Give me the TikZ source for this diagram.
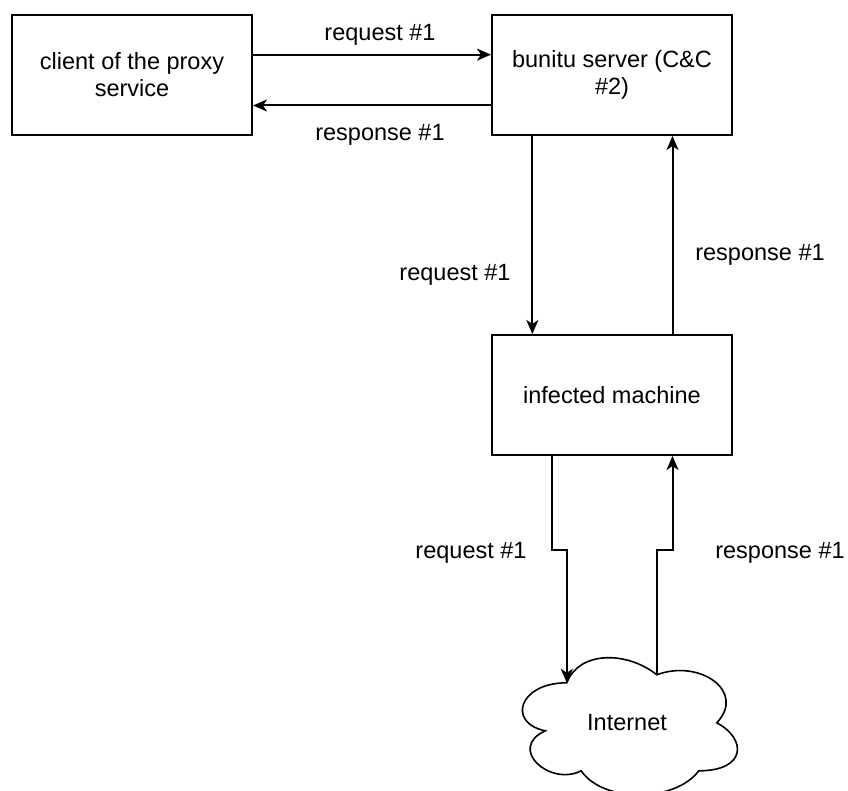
\documentclass[tikz,border=0pt]{standalone}
\usepackage{fontspec}
\setmainfont{Liberation Sans}
\usetikzlibrary{arrows.meta,calc}
\begin{document}
\begin{tikzpicture}[x=1pt,y=-1pt,
  every node/.style={font=\fontsize{23.5}{27}\selectfont, inner sep=0pt},
  box/.style={draw, line width=2pt, minimum width=240pt, minimum height=120pt, align=center},
  arr/.style={line width=2pt, -{Stealth[length=14pt,width=12pt,inset=4pt]}},
  cloudline/.style={line width=1.6pt}]
\useasboundingbox (0,0) rectangle (848,791);
\clip (0,0) rectangle (848,791);

\node[box] (client) at (132,75) {client of the proxy\\service};
\node[box] (bunitu) at (612,75) {bunitu server (C\&C\\\#2)};
\node[box] (infected) at (612,395) {infected machine};
\node[minimum width=240pt, minimum height=160pt] (cloudbox) at (627,723) {};
\node (internet) at (cloudbox.center) {Internet};

\begin{scope}[shift={(cloudbox.north west)}, x=240pt, y=-160pt]
  \draw[cloudline] (0.25,0.25)
    .. controls (0.05,0.25) and (0,0.5) .. (0.16,0.55)
    .. controls (0,0.66) and (0.18,0.9) .. (0.31,0.8)
    .. controls (0.4,1) and (0.7,1) .. (0.8,0.8)
    .. controls (1,0.8) and (1,0.6) .. (0.875,0.5)
    .. controls (1,0.3) and (0.8,0.1) .. (0.625,0.2)
    .. controls (0.5,0.05) and (0.3,0.05) .. (0.25,0.25) -- cycle;
  \coordinate (cloudin) at (0.25,0.25);
  \coordinate (cloudout) at (0.625,0.2);
\end{scope}

\coordinate (jog) at (0,550);
\coordinate (reqout) at ($(infected.south west)!0.25!(infected.south east)$);
\coordinate (respin) at ($(infected.south west)!0.75!(infected.south east)$);

\draw[arr] ($(client.north east)!0.3333!(client.south east)$) -- ($(bunitu.north west)!0.3333!(bunitu.south west)$);
\draw[arr] ($(bunitu.north west)!0.75!(bunitu.south west)$) -- ($(client.north east)!0.75!(client.south east)$);
\draw[arr] ($(bunitu.south west)!0.1708!(bunitu.south east)$) -- ($(infected.north west)!0.1708!(infected.north east)$);
\draw[arr] ($(infected.north west)!0.75!(infected.north east)$) -- ($(bunitu.south west)!0.75!(bunitu.south east)$);
\draw[arr] (reqout) -- (reqout |- jog) -- (cloudin |- jog) -- (cloudin);
\draw[arr] (cloudout) -- (cloudout |- jog) -- (respin |- jog) -- (respin);

\node (l1) at (380,35) {request \#1};
\node (l2) at (380,135) {response \#1};
\node (l3) at (455,275) {request \#1};
\node (l4) at (760,255) {response \#1};
\node (l5) at (471,553) {request \#1};
\node (l6) at (780,553) {response \#1};
\end{tikzpicture}
\end{document}
